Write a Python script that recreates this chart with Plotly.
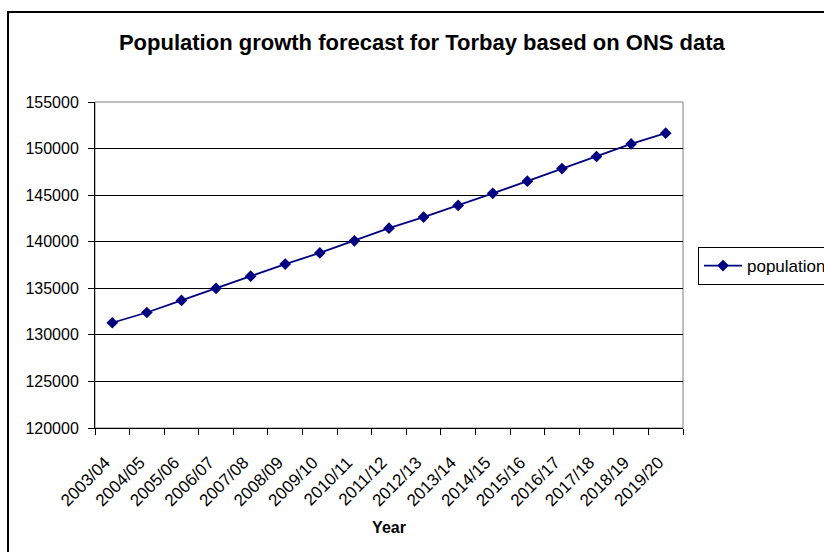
import plotly.graph_objects as go

# Financial years and forecast population for Torbay (ONS based)
years = ["2003/04", "2004/05", "2005/06", "2006/07", "2007/08", "2008/09",
         "2009/10", "2010/11", "2011/12", "2012/13", "2013/14", "2014/15",
         "2015/16", "2016/17", "2017/18", "2018/19", "2019/20"]
population = [131300, 132400, 133700, 135000, 136300, 137600, 138800, 140100,
              141450, 142650, 143900, 145200, 146500, 147850, 149150, 150500,
              151650]
y_ticks = [120000, 125000, 130000, 135000, 140000, 145000, 150000, 155000]

FONT = "Liberation Sans, Arial, sans-serif"
W, H = 824, 552
ML, MR, MT, MB = 95, 141, 102, 124
PW, PH = W - ML - MR, H - MT - MB


def px_x(x):
    return (x - ML) / PW


def px_y(y):
    return (H - MB - y) / PH


fig = go.Figure()
fig.add_trace(go.Scatter(
    x=years, y=population, name="population", mode="lines+markers",
    line=dict(color="#000080", width=1.8),
    marker=dict(symbol="diamond", size=9, color="#000080"),
))

fig.update_layout(
    width=W, height=H,
    margin=dict(l=ML, r=MR, t=MT, b=MB, autoexpand=False),
    paper_bgcolor="white", plot_bgcolor="white",
    font=dict(family=FONT, size=16, color="black"),
    title=dict(
        text="<b>Population growth forecast for Torbay based on ONS data</b>",
        x=0.512, xanchor="center", xref="container",
        y=1 - 42.5 / H, yanchor="middle", yref="container",
        font=dict(family=FONT, size=22, color="black"),
    ),
    showlegend=True,
    legend=dict(
        x=px_x(698), xanchor="left", y=px_y(266), yanchor="middle",
        bordercolor="black", borderwidth=1, bgcolor="white",
        itemwidth=38,
        font=dict(family=FONT, size=17, color="black"),
    ),
    shapes=[
        # chart area frame
        dict(type="rect", xref="paper", yref="paper",
             x0=px_x(8), x1=px_x(840), y0=px_y(12), y1=px_y(570),
             line=dict(color="black", width=2), layer="below"),
        # plot area frame
        dict(type="rect", xref="paper", yref="paper",
             x0=0, x1=1, y0=0, y1=1,
             line=dict(color="#808080", width=1), layer="below"),
    ],
)

fig.update_xaxes(
    type="category", range=[-0.5, len(years) - 0.5],
    tickson="boundaries", ticks="outside", ticklen=6, tickcolor="black",
    tickangle=-45, ticklabelstandoff=17, ticklabelshift=-7,
    showline=True, linecolor="black", linewidth=1,
    showgrid=False, automargin=False,
    tickfont=dict(family=FONT, size=17, color="black"),
    title=dict(text="<b>Year</b>", standoff=12,
               font=dict(family=FONT, size=16, color="black")),
)
fig.update_yaxes(
    range=[120000, 155000], tickvals=y_ticks,
    ticktext=[str(v) for v in y_ticks],
    ticks="outside", ticklen=6, tickcolor="black", ticklabelstandoff=6,
    showline=True, linecolor="black", linewidth=1,
    showgrid=True, gridcolor="black", gridwidth=1,
    zeroline=False, automargin=False,
    tickfont=dict(family=FONT, size=16, color="black"),
)

fig.write_html("out.html")
